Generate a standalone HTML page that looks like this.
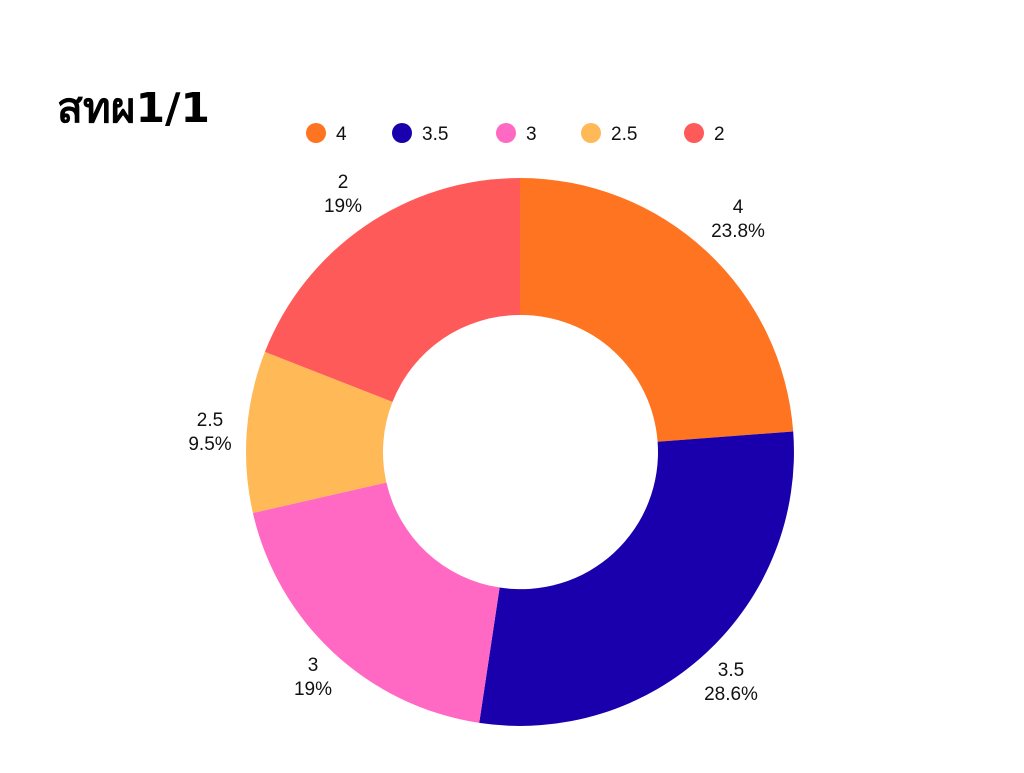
<!DOCTYPE html>
<html><head><meta charset="utf-8"><style>
body{margin:0;background:#fff;width:1024px;height:768px;overflow:hidden;font-family:"Liberation Sans","Noto Sans CJK SC",sans-serif}
</style></head><body>
<svg width="1024" height="768" xmlns="http://www.w3.org/2000/svg" font-family="Liberation Sans, DejaVu Sans, sans-serif">
<text x="57" y="122" font-size="41" font-weight="bold" fill="#000" font-family="DejaVu Sans, Liberation Sans, sans-serif" textLength="153" lengthAdjust="spacingAndGlyphs">สทผ1/1</text>
<g font-size="19" fill="#111">
<circle cx="316" cy="133" r="10" fill="#FF7420"/><text x="336" y="140">4</text>
<circle cx="402" cy="133" r="10" fill="#1A00AD"/><text x="422" y="140">3.5</text>
<circle cx="506" cy="133" r="10" fill="#FF69C3"/><text x="526" y="140">3</text>
<circle cx="591" cy="133" r="10" fill="#FFB957"/><text x="611" y="140">2.5</text>
<circle cx="694" cy="133" r="10" fill="#FF5A5A"/><text x="714" y="140">2</text>
</g>
<path d="M520 178 A274 274 0 0 1 793.2 431.5 L657.6 441.7 A137 137 0 0 0 520 315 Z" fill="#FF7420"/>
<path d="M793.2 431.5 A274 274 0 0 1 479.2 722.9 L499.6 587.5 A137 137 0 0 0 657.6 441.7 Z" fill="#1A00AD"/>
<path d="M479.2 722.9 A274 274 0 0 1 252.9 513 L386.4 482.5 A137 137 0 0 0 499.6 587.5 Z" fill="#FF69C3"/>
<path d="M252.9 513 A274 274 0 0 1 264.9 351.9 L392.5 401.9 A137 137 0 0 0 386.4 482.5 Z" fill="#FFB957"/>
<path d="M264.9 351.9 A274 274 0 0 1 520 178 L520 315 A137 137 0 0 0 392.5 401.9 Z" fill="#FF5A5A"/>
<g font-size="19" fill="#111" text-anchor="middle">
<text x="738" y="213">4</text><text x="738" y="237">23.8%</text>
<text x="731" y="676">3.5</text><text x="731" y="700">28.6%</text>
<text x="313" y="671">3</text><text x="313" y="695">19%</text>
<text x="210" y="426">2.5</text><text x="210" y="450">9.5%</text>
<text x="343" y="188">2</text><text x="343" y="212">19%</text>
</g>
</svg>
</body></html>
